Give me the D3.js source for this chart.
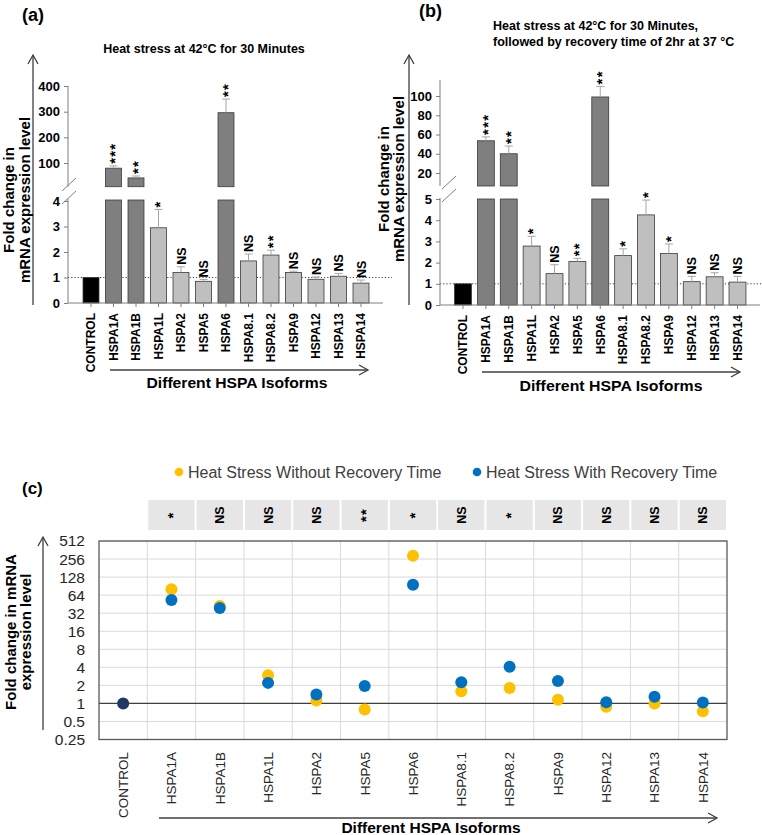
<!DOCTYPE html>
<html><head><meta charset="utf-8">
<script src="https://cdn.jsdelivr.net/npm/d3@7"></script>
<style>
body{margin:0;background:#fff}
svg{display:block}
text{font-family:"Liberation Sans",Arial,sans-serif}
</style>
</head><body>
<svg id="c" width="762" height="835"></svg>
<script>
// ---------------- DATA ----------------
const categories = ["CONTROL","HSPA1A","HSPA1B","HSPA1L","HSPA2","HSPA5","HSPA6","HSPA8.1","HSPA8.2","HSPA9","HSPA12","HSPA13","HSPA14"];

// Panel (a): heat stress 42°C, 30 min
const valuesA = [1, 80, 42, 2.95, 1.2, 0.85, 296, 1.65, 1.88, 1.2, 0.93, 1.05, 0.78];
const errTopA = [null, 89, 49.5, 3.67, 1.42, 0.92, 349, 1.92, 2.07, 1.25, 1.02, 1.16, 0.9];
const sigA    = ["", "***", "**", "*", "NS", "NS", "**", "NS", "**", "NS", "NS", "NS", "NS"];
const ticksALow = [0, 1, 2, 3, 4];
const ticksAUp  = [100, 200, 300, 400];

// Panel (b): heat stress + 2 h recovery at 37 °C
const valuesB = [1, 53.5, 40, 2.78, 1.48, 2.05, 99, 2.33, 4.25, 2.43, 1.1, 1.33, 1.08];
const errTopB = [null, 57.5, 48, 3.24, 1.9, 2.2, 110, 2.65, 4.95, 2.88, 1.35, 1.52, 1.35];
const sigB    = ["", "***", "**", "*", "NS", "**", "**", "*", "*", "*", "NS", "NS", "NS"];
const ticksBLow = [0, 1, 2, 3, 4, 5];
const ticksBUp  = [20, 40, 60, 80, 100];

// Panel (c): dot comparison (log2 scale)
const noRecovery   = [1, 80, 42, 2.95, 1.12, 0.79, 291, 1.59, 1.8, 1.15, 0.88, 1.0, 0.74];
const withRecovery = [1, 53, 39, 2.2, 1.41, 1.95, 95, 2.25, 4.1, 2.36, 1.05, 1.29, 1.04];
const sigC = ["*", "NS", "NS", "NS", "**", "*", "NS", "*", "NS", "NS", "NS", "NS"];
const ticksC = [0.25, 0.5, 1, 2, 4, 8, 16, 32, 64, 128, 256, 512];
const seriesNames = ["Heat Stress Without Recovery Time", "Heat Stress With Recovery Time"];

// ---------------- DRAW ----------------
const svg = d3.select("#c");
const AX = "#404040";

function arrowV(x, yBottom, yTop) {
  svg.append("line").attr("x1", x).attr("x2", x).attr("y1", yBottom).attr("y2", yTop)
    .attr("stroke", AX).attr("stroke-width", 1.3);
  svg.append("path").attr("d", `M${x-5},${yTop+9}L${x},${yTop}L${x+5},${yTop+9}`)
    .attr("fill", "none").attr("stroke", AX).attr("stroke-width", 1.3);
}
function arrowH(x0, x1, y) {
  svg.append("line").attr("x1", x0).attr("x2", x1).attr("y1", y).attr("y2", y)
    .attr("stroke", AX).attr("stroke-width", 1.3);
  svg.append("path").attr("d", `M${x1-9},${y-5}L${x1},${y}L${x1-9},${y+5}`)
    .attr("fill", "none").attr("stroke", AX).attr("stroke-width", 1.3);
}
function yLabel(lines, xs, cy, size) {
  lines.forEach((t, i) => {
    svg.append("text").attr("transform", `translate(${xs[i]},${cy}) rotate(-90)`)
      .attr("text-anchor", "middle").attr("font-weight", "bold").attr("font-size", size)
      .attr("fill", "#000").text(t);
  });
}
// significance label: rotated text reading upward; asterisks stack vertically
function sigText(g, cx, y, s, anchor) {
  const isStar = s !== "NS";
  g.append("text").attr("transform", `translate(${cx},${y}) rotate(-90)`)
    .attr("text-anchor", anchor)
    .attr("dy", isStar ? "0.45em" : "0.36em")
    .attr("font-size", isStar ? 15 : 12.5).attr("font-weight", "bold")
    .attr("letter-spacing", isStar ? 1.2 : 0)
    .attr("fill", "#000").text(s);
}

function barPanel(o) {
  const g = svg.append("g");
  const x = d3.scalePoint().domain(categories).range(o.centers);
  const bw = x.step() * o.bwFrac;
  const yLow = d3.scaleLinear().domain([0, o.lowTicks[o.lowTicks.length - 1]]).range(o.lowRange);
  const yUp = d3.scaleLinear().domain([0, o.upRef]).range(o.upRange);
  const lowMax = yLow.domain()[1];
  const y0 = yLow(0);

  // dotted reference line at 1
  g.append("line").attr("x1", o.axisX).attr("x2", o.dotRight).attr("y1", yLow(1)).attr("y2", yLow(1))
    .attr("stroke", "#404040").attr("stroke-width", 1).attr("stroke-dasharray", "1.2,2");

  o.values.forEach((v, i) => {
    const c = categories[i];
    const cx = x(c);
    const fill = i === 0 ? "#000" : (v > lowMax ? "#7f7f7f" : "#bfbfbf");
    const sc = v > lowMax ? yUp : yLow;
    if (v > lowMax) {
      g.append("rect").attr("x", cx - bw / 2).attr("width", bw)
        .attr("y", yUp(v)).attr("height", o.upBottom - yUp(v))
        .attr("fill", fill).attr("stroke", "#3a3a3a").attr("stroke-width", 0.8);
      g.append("rect").attr("x", cx - bw / 2).attr("width", bw)
        .attr("y", o.lowTop).attr("height", y0 - o.lowTop)
        .attr("fill", fill).attr("stroke", "#3a3a3a").attr("stroke-width", 0.8);
    } else {
      g.append("rect").attr("x", cx - bw / 2).attr("width", bw)
        .attr("y", yLow(v)).attr("height", y0 - yLow(v))
        .attr("fill", fill).attr("stroke", "#3a3a3a").attr("stroke-width", 0.8);
    }
    const e = o.errs[i];
    if (e != null) {
      g.append("line").attr("x1", cx).attr("x2", cx).attr("y1", sc(v)).attr("y2", sc(e))
        .attr("stroke", "#a6a6a6").attr("stroke-width", 1);
      g.append("line").attr("x1", cx - 4).attr("x2", cx + 4).attr("y1", sc(e)).attr("y2", sc(e))
        .attr("stroke", "#a6a6a6").attr("stroke-width", 1);
      if (o.sigs[i]) sigText(g, cx, sc(e) - 2, o.sigs[i], "start");
    }
  });

  // y axes (ticks + labels)
  const styleAxis = sel => {
    sel.select(".domain").remove();
    sel.selectAll("line").attr("stroke", "#7f7f7f");
    sel.selectAll("text").attr("font-size", 13).attr("font-weight", "bold")
      .attr("fill", "#000").attr("font-family", '"Liberation Sans",Arial,sans-serif');
  };
  g.append("g").attr("transform", `translate(${o.axisX},0)`)
    .call(d3.axisLeft(yLow).tickValues(o.lowTicks).tickFormat(d3.format("d")).tickSize(4).tickPadding(4))
    .call(styleAxis);
  g.append("g").attr("transform", `translate(${o.axisX},0)`)
    .call(d3.axisLeft(yUp).tickValues(o.upTicks).tickFormat(d3.format("d")).tickSize(4).tickPadding(4))
    .call(styleAxis);
  // axis lines
  g.append("line").attr("x1", o.axisX).attr("x2", o.axisX).attr("y1", y0).attr("y2", o.lowAxisTop)
    .attr("stroke", "#7f7f7f").attr("stroke-width", 1);
  g.append("line").attr("x1", o.axisX).attr("x2", o.axisX).attr("y1", o.upBottom).attr("y2", o.upAxisTop)
    .attr("stroke", "#7f7f7f").attr("stroke-width", 1);
  // break marks
  o.slashes.forEach(s => {
    g.append("line").attr("x1", s[0]).attr("y1", s[1]).attr("x2", s[0] + 14).attr("y2", s[1] - 13)
      .attr("stroke", "#7f7f7f").attr("stroke-width", 1);
  });
  // x axis
  g.append("line").attr("x1", o.axisX).attr("x2", o.axisRight).attr("y1", y0).attr("y2", y0)
    .attr("stroke", "#7f7f7f").attr("stroke-width", 1);
  categories.forEach(c => {
    g.append("line").attr("x1", x(c)).attr("x2", x(c)).attr("y1", y0).attr("y2", y0 + 4)
      .attr("stroke", "#7f7f7f");
    g.append("text").attr("transform", `translate(${x(c)},${o.labelTop}) rotate(-90)`)
      .attr("text-anchor", "end").attr("dy", "0.36em").attr("font-size", 12)
      .attr("font-weight", "bold").attr("fill", "#000").text(c);
  });
  return x;
}

// ---- Panel (a)
svg.append("text").attr("x", 22).attr("y", 21).attr("font-size", 18).attr("font-weight", "bold").text("(a)");
svg.append("text").attr("x", 204).attr("y", 52.5).attr("text-anchor", "middle").attr("font-size", 12.5)
  .attr("font-weight", "bold").text("Heat stress at 42°C for 30 Minutes");
barPanel({
  values: valuesA, errs: errTopA, sigs: sigA,
  centers: [91, 361], bwFrac: 0.71,
  lowTicks: ticksALow, lowRange: [303, 201],
  upTicks: ticksAUp, upRef: 400, upRange: [188.7, 86],
  upBottom: 186.7, lowTop: 200, lowAxisTop: 199, upAxisTop: 86,
  axisX: 68, axisRight: 383, dotRight: 392, labelTop: 313,
  slashes: [[62, 191], [62, 204]]
});
arrowV(33, 305, 55);
yLabel(["Fold change in", "mRNA expression level"], [14, 30], 200, 15);
arrowH(110, 368, 370);
svg.append("text").attr("x", 237).attr("y", 388).attr("text-anchor", "middle").attr("font-size", 15.5)
  .attr("font-weight", "bold").attr("textLength", 181).attr("lengthAdjust", "spacingAndGlyphs")
  .text("Different HSPA Isoforms");

// ---- Panel (b)
svg.append("text").attr("x", 419).attr("y", 17).attr("font-size", 18).attr("font-weight", "bold").text("(b)");
svg.append("text").attr("x", 493).attr("y", 29.5).attr("font-size", 12.5).attr("font-weight", "bold")
  .text("Heat stress at 42°C for 30 Minutes,");
svg.append("text").attr("x", 493).attr("y", 45.5).attr("font-size", 12.5).attr("font-weight", "bold")
  .text("followed by recovery time of 2hr at 37 °C");
barPanel({
  values: valuesB, errs: errTopB, sigs: sigB,
  centers: [463, 737.5], bwFrac: 0.74,
  lowTicks: ticksBLow, lowRange: [305, 199],
  upTicks: ticksBUp, upRef: 100, upRange: [192.25, 96],
  upBottom: 186, lowTop: 199, lowAxisTop: 198, upAxisTop: 80,
  axisX: 440, axisRight: 760, dotRight: 762, labelTop: 315,
  slashes: [[442, 189], [442, 202]]
});
arrowV(409, 305, 55);
yLabel(["Fold change in", "mRNA expression level"], [389, 404], 179, 15);
arrowH(482, 740, 372);
svg.append("text").attr("x", 611).attr("y", 391).attr("text-anchor", "middle").attr("font-size", 15.5)
  .attr("font-weight", "bold").attr("textLength", 183).attr("lengthAdjust", "spacingAndGlyphs")
  .text("Different HSPA Isoforms");

// ---- Panel (c)
svg.append("text").attr("x", 22).attr("y", 494).attr("font-size", 17).attr("font-weight", "bold").text("(c)");
const colors = ["#ffc000", "#0070c0"];
const legendX = [179, 477];
seriesNames.forEach((n, i) => {
  svg.append("circle").attr("cx", legendX[i]).attr("cy", 472).attr("r", 4.3).attr("fill", colors[i]);
  svg.append("text").attr("x", legendX[i] + 9).attr("y", 477.5).attr("font-size", 16)
    .attr("fill", "#404040").text(n);
});

const xC = d3.scaleBand().domain(categories).range([99, 727]).padding(0);
const yC = d3.scaleLog().base(2).domain([0.25, 512]).range([739.5, 541]);
const gc = svg.append("g");

// significance strip
categories.slice(1).forEach((c, i) => {
  gc.append("rect").attr("x", xC(c) + 1).attr("y", 500).attr("width", xC.bandwidth() - 2).attr("height", 30)
    .attr("fill", "#e7e6e6");
  const cx = xC(c) + xC.bandwidth() / 2;
  sigText(gc, cx, 515, sigC[i], "middle");
});

// grid
ticksC.forEach(t => {
  gc.append("line").attr("x1", 99).attr("x2", 727).attr("y1", yC(t)).attr("y2", yC(t))
    .attr("stroke", "#d9d9d9").attr("stroke-width", 1);
});
categories.slice(1).forEach(c => {
  gc.append("line").attr("x1", xC(c)).attr("x2", xC(c)).attr("y1", 541).attr("y2", 739.5)
    .attr("stroke", "#d9d9d9").attr("stroke-width", 1);
});
gc.append("line").attr("x1", 99).attr("x2", 727).attr("y1", yC(1)).attr("y2", yC(1))
  .attr("stroke", "#404040").attr("stroke-width", 1.4);
gc.append("rect").attr("x", 99).attr("y", 541).attr("width", 628).attr("height", 198.5)
  .attr("fill", "none").attr("stroke", "#595959").attr("stroke-width", 1.3);

// y tick labels
gc.append("g").attr("transform", "translate(99,0)")
  .call(d3.axisLeft(yC).tickValues(ticksC).tickFormat(d => String(d)).tickSize(0).tickPadding(14))
  .call(sel => {
    sel.select(".domain").remove();
    sel.selectAll("text").attr("font-size", 15.5).attr("fill", "#262626")
      .attr("font-family", '"Liberation Sans",Arial,sans-serif');
  });

// x labels
categories.forEach(c => {
  const cx = xC(c) + xC.bandwidth() / 2;
  gc.append("text").attr("transform", `translate(${cx},752) rotate(-90)`).attr("text-anchor", "end")
    .attr("dy", "0.36em").attr("font-size", 13.5).attr("fill", "#262626").text(c);
});

// dots
const cxC = c => xC(c) + xC.bandwidth() / 2;
categories.forEach((c, i) => {
  if (i === 0) return;
  gc.append("circle").attr("cx", cxC(c)).attr("cy", yC(noRecovery[i])).attr("r", 6).attr("fill", colors[0]);
});
categories.forEach((c, i) => {
  if (i === 0) return;
  gc.append("circle").attr("cx", cxC(c)).attr("cy", yC(withRecovery[i])).attr("r", 6).attr("fill", colors[1]);
});
gc.append("circle").attr("cx", cxC("CONTROL")).attr("cy", yC(noRecovery[0])).attr("r", 6).attr("fill", "#1f3864");

arrowV(43, 730, 537);
yLabel(["Fold change in mRNA", "expression level"], [16, 31], 632, 15);
arrowH(159, 717, 818);
svg.append("text").attr("x", 431).attr("y", 833).attr("text-anchor", "middle").attr("font-size", 15.5)
  .attr("font-weight", "bold").text("Different HSPA Isoforms");
</script>
</body></html>
